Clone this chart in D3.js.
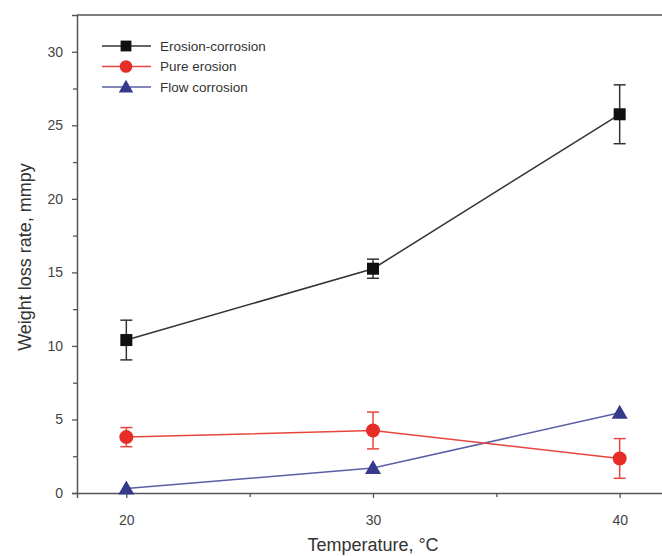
<!DOCTYPE html>
<html><head><meta charset="utf-8">
<script src="https://cdn.jsdelivr.net/npm/d3@7"></script>
<style>body{margin:0;background:#fff;} svg{display:block;}</style>
</head><body>
<svg id="chart" width="662" height="556"></svg>
<script>
const temps = [20, 30, 40];
const erosionCorrosion = [10.4, 15.25, 25.75];
const erosionCorrosionErr = [1.35, 0.65, 2.0];
const pureErosion = [3.8, 4.25, 2.35];
const pureErosionErr = [0.65, 1.25, 1.35];
const flowCorrosion = [0.3, 1.7, 5.45];
const xTicks = [20, 30, 40];
const xMinor = [25, 35];
const yTicks = [0, 5, 10, 15, 20, 25, 30];
const yMinor = [2.5, 7.5, 12.5, 17.5, 22.5, 27.5];
const seriesNames = ["Erosion-corrosion", "Pure erosion", "Flow corrosion"];

const svg = d3.select("#chart");
const L = 77, T = 15, B = 493, R = 669;
const x = d3.scaleLinear().domain([18, 42]).range([L, R]);
const y = d3.scaleLinear().domain([0, 32.5]).range([B, T]);
const axisColor = "#555";
const font = "Arial, 'Liberation Sans', sans-serif";

// frame
svg.append("line").attr("x1", L).attr("x2", R).attr("y1", T).attr("y2", T).attr("stroke", axisColor).attr("stroke-width", 1.5);

svg.append("g").attr("transform", `translate(0,${B})`)
  .call(d3.axisBottom(x).tickValues(xTicks).tickSize(5).tickPadding(17).tickFormat(d3.format("d")));
svg.append("g").attr("transform", `translate(0,${B})`)
  .call(d3.axisBottom(x).tickValues(xMinor).tickSize(4).tickFormat(""))
  .call(g => g.select(".domain").remove());
svg.append("g").attr("transform", `translate(${L},0)`)
  .call(d3.axisLeft(y).tickValues(yTicks).tickSize(5).tickPadding(9).tickFormat(d3.format("d")));
svg.append("g").attr("transform", `translate(${L},0)`)
  .call(d3.axisLeft(y).tickValues(yMinor).tickSize(4).tickFormat(""))
  .call(g => g.select(".domain").remove());
svg.selectAll(".domain").attr("stroke", axisColor).attr("stroke-width", 1.5);
svg.selectAll(".tick line").attr("stroke", axisColor).attr("stroke-width", 1.3);
svg.selectAll(".tick text").attr("fill", "#444").style("font-family", font).style("font-size", "14px");

// axis titles
svg.append("text").attr("x", 373).attr("y", 551).attr("text-anchor", "middle")
  .style("font-family", font).style("font-size", "18px").attr("fill", "#333").text("Temperature, °C");
svg.append("text").attr("transform", "translate(31,257) rotate(-90)").attr("text-anchor", "middle")
  .style("font-family", font).style("font-size", "18px").attr("fill", "#333").text("Weight loss rate, mmpy");

const series = [
  {name: seriesNames[0], vals: erosionCorrosion, err: erosionCorrosionErr, line: "#333", fill: "#111", marker: "square"},
  {name: seriesNames[1], vals: pureErosion, err: pureErosionErr, line: "#e8453c", fill: "#e62e26", marker: "circle"},
  {name: seriesNames[2], vals: flowCorrosion, err: null, line: "#5b5fa6", fill: "#353a8c", marker: "triangle"}
];

function drawMarker(g, type, cx, cy, fill, s) {
  s = s || 1;
  if (type === "square") g.append("rect").attr("x", cx - 6*s).attr("y", cy - 6*s).attr("width", 12*s).attr("height", 12*s).attr("fill", fill);
  else if (type === "circle") g.append("circle").attr("cx", cx).attr("cy", cy).attr("r", 7*s).attr("fill", fill);
  else g.append("path").attr("d", `M${cx},${cy-8*s}L${cx+8*s},${cy+6*s}L${cx-8*s},${cy+6*s}Z`).attr("fill", fill);
}

const lineGen = d3.line().x(d => x(d[0])).y(d => y(d[1]));
series.slice().reverse().forEach(s => {
  const g = svg.append("g");
  const pts = temps.map((t, i) => [t, s.vals[i]]);
  g.append("path").attr("d", lineGen(pts)).attr("fill", "none").attr("stroke", s.line).attr("stroke-width", 1.5);
  if (s.err) {
    temps.forEach((t, i) => {
      const cx = x(t), y1 = y(s.vals[i] - s.err[i]), y2 = y(s.vals[i] + s.err[i]);
      g.append("line").attr("x1", cx).attr("x2", cx).attr("y1", y1).attr("y2", y2).attr("stroke", s.line).attr("stroke-width", 1.5);
      [y1, y2].forEach(yy => g.append("line").attr("x1", cx - 6).attr("x2", cx + 6).attr("y1", yy).attr("y2", yy).attr("stroke", s.line).attr("stroke-width", 1.5));
    });
  }
  pts.forEach(p => drawMarker(g, s.marker, x(p[0]), y(p[1]), s.fill));
});

// legend
const lg = svg.append("g");
series.forEach((s, i) => {
  const yy = 46 + i * 20.5;
  lg.append("line").attr("x1", 102).attr("x2", 151).attr("y1", yy).attr("y2", yy).attr("stroke", s.line).attr("stroke-width", 1.5);
  drawMarker(lg, s.marker, 126, yy, s.fill, 0.9);
  lg.append("text").attr("x", 160).attr("y", yy + 4.5).style("font-family", font).style("font-size", "13.5px").attr("fill", "#333").text(s.name);
});
</script>
</body></html>
